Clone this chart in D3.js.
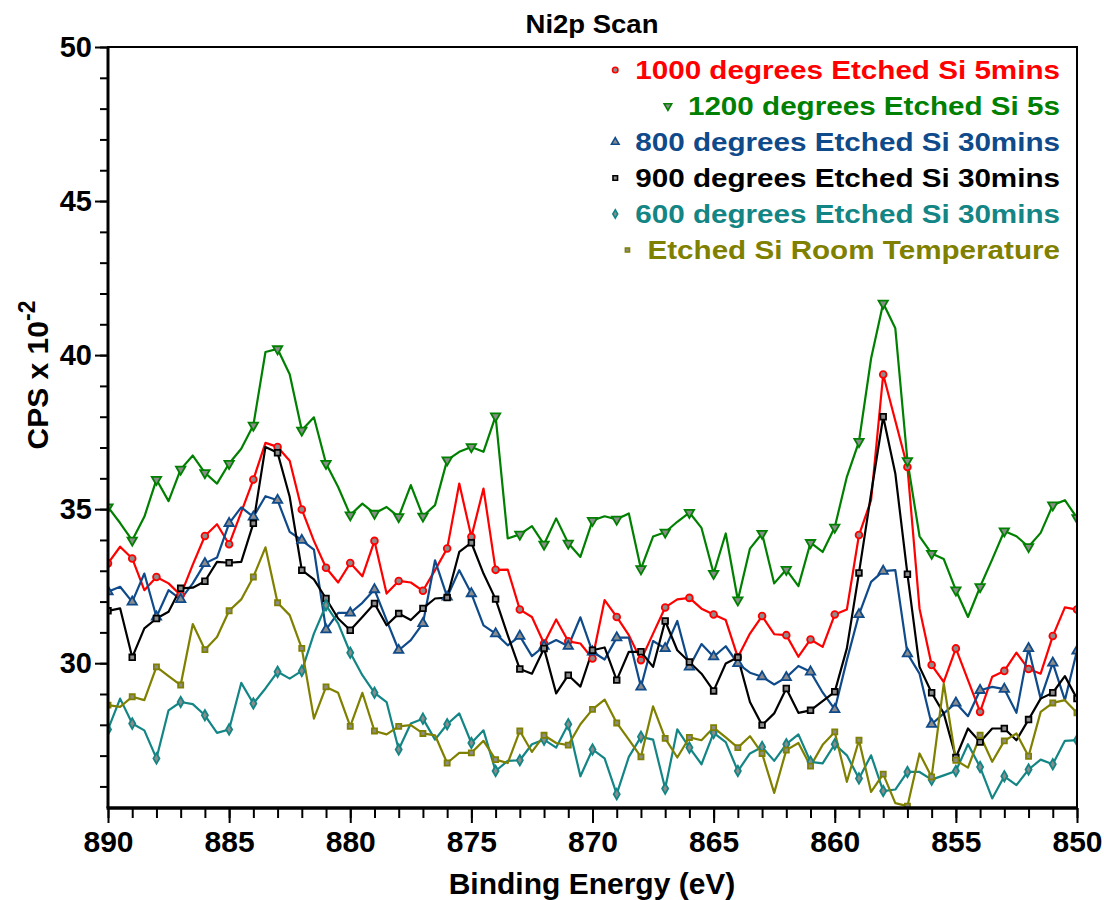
<!DOCTYPE html>
<html>
<head>
<meta charset="utf-8">
<script src="https://cdn.jsdelivr.net/npm/d3@7"></script>
<style>
  body { margin: 0; background: #fff; }
  text { font-family: "Liberation Sans", Arial, sans-serif; font-weight: bold; }
</style>
</head>
<body>
<svg id="chart" width="1104" height="900"></svg>
<script>
// Binding energy grid (eV), 0.5 eV steps from 890 down to 850
const energies = d3.range(0, 81).map(i => 890 - i * 0.5);

// Ni2p counts (CPS x 10^-2), one value per energy step
const ni1000 = [33.24,33.78,33.40,32.37,32.80,32.59,32.21,33.20,34.13,34.51,33.86,34.90,35.96,37.15,37.02,36.57,34.99,33.97,33.10,32.62,33.25,32.82,33.97,32.26,32.67,32.62,32.35,33.02,33.72,35.83,34.10,35.67,33.03,33.04,31.74,31.50,30.64,31.42,30.71,30.64,30.15,32.05,31.50,30.91,30.10,30.96,31.81,32.07,32.12,31.77,31.58,31.40,30.19,30.96,31.53,30.94,30.91,30.21,30.77,30.53,31.58,31.74,34.16,35.29,39.37,37.87,36.37,31.77,29.94,29.39,30.48,29.45,28.42,29.56,29.75,30.34,29.81,29.66,30.88,31.81,31.74];
const ni1200 = [35.07,34.55,33.99,34.75,35.96,35.26,36.29,36.74,36.18,35.83,36.48,36.96,37.72,40.10,40.20,39.38,37.56,37.98,36.48,35.72,34.81,35.18,34.86,35.07,34.75,35.78,34.77,35.13,36.59,36.86,37.02,36.86,38.02,34.05,34.18,34.45,33.86,34.70,33.89,33.45,34.63,34.77,34.67,34.86,33.06,34.11,34.25,34.59,34.89,34.39,32.91,34.21,32.05,33.72,34.21,32.59,33.04,32.50,33.91,33.61,34.41,36.05,37.19,39.89,41.68,40.87,36.57,34.12,33.56,33.38,32.37,31.50,32.48,33.37,34.29,34.12,33.78,34.23,35.13,35.29,34.72];
const ni800 = [32.32,32.48,31.99,32.91,31.50,32.37,32.07,32.59,33.24,33.43,34.54,35.06,34.75,35.42,35.29,34.26,33.99,33.69,31.09,31.63,31.63,31.96,32.39,31.40,30.42,30.75,31.29,33.34,32.15,33.02,32.26,31.23,30.96,30.58,30.88,30.23,30.55,30.75,30.55,31.49,30.37,30.12,30.83,30.83,29.23,30.72,30.48,31.37,29.88,30.62,30.21,30.55,29.99,29.69,29.56,29.31,29.54,29.91,29.72,29.05,28.50,30.10,31.58,32.64,32.99,33.02,30.31,29.66,28.02,28.37,28.71,28.28,29.12,29.23,29.16,28.39,30.48,28.85,30.01,28.80,30.40];
const ni900 = [31.70,31.78,30.19,31.13,31.45,31.67,32.43,32.45,32.66,33.29,33.26,33.29,34.54,37.02,36.83,35.40,33.02,32.72,32.10,31.45,31.07,31.50,31.94,31.23,31.61,31.40,31.78,32.10,32.13,33.61,33.91,32.91,32.08,30.91,29.81,29.66,30.48,29.02,29.61,29.24,30.42,30.51,29.45,30.37,30.37,29.88,31.37,30.42,30.04,29.66,29.10,29.99,30.19,28.74,27.99,28.37,29.18,28.39,28.47,28.77,29.07,30.48,32.93,35.50,38.00,36.16,32.89,29.88,29.04,28.37,26.94,27.88,27.44,27.88,27.88,27.50,28.17,28.85,29.04,29.58,28.85];
const ni600 = [27.85,28.85,28.04,27.82,26.91,28.47,28.74,28.67,28.31,27.74,27.85,29.36,28.69,29.18,29.72,29.50,29.75,30.96,31.88,31.29,30.34,29.61,29.04,28.74,27.20,28.04,28.20,27.52,28.02,28.37,27.41,27.82,26.50,26.83,26.85,27.37,27.52,27.26,28.02,26.33,27.20,26.91,25.75,26.96,27.61,27.52,25.93,27.85,27.26,26.72,27.74,27.44,26.50,27.07,27.28,26.83,27.37,27.69,26.80,26.75,27.37,27.01,26.26,27.01,25.85,25.90,26.47,26.47,26.22,26.36,26.50,27.37,26.63,25.61,26.33,26.04,26.55,26.87,26.72,27.48,27.50];
const niRoom = [28.64,28.58,28.91,28.80,29.88,29.58,29.29,31.27,30.44,30.85,31.70,32.07,32.80,33.76,31.96,31.56,30.48,28.20,29.23,29.04,27.95,29.04,27.80,27.69,27.95,27.99,27.72,27.66,26.76,27.09,27.09,27.48,26.87,26.76,27.80,27.12,27.66,27.41,27.34,28.02,28.50,28.82,28.06,27.52,26.96,28.60,27.56,26.94,27.59,27.50,27.91,27.59,27.26,27.63,27.07,25.79,27.18,27.41,26.66,27.35,27.77,26.15,27.50,25.82,26.40,25.46,25.36,27.07,26.31,29.34,26.85,26.61,27.66,26.80,27.48,27.72,26.98,28.42,28.71,28.80,28.39];

const seriesNames = ["1000 degrees Etched Si 5mins", "1200 degrees Etched Si 5s", "800 degrees Etched Si 30mins",
                     "900 degrees Etched Si 30mins", "600 degrees Etched Si 30mins", "Etched Si Room Temperature"];
const seriesValues = [ni1000, ni1200, ni800, ni900, ni600, niRoom];

const xTickLabels = [890, 885, 880, 875, 870, 865, 860, 855, 850];
const yTickLabels = [30, 35, 40, 45, 50];

const chartTitle = "Ni2p Scan";
const xTitle = "Binding Energy (eV)";

// Appearance
const colors = ["#ff0000", "#008000", "#0f4a8a", "#000000", "#138585", "#808000"];
const symbols = [d3.symbolCircle, d3.symbolTriangle, d3.symbolTriangle, d3.symbolSquare, d3.symbolDiamond, d3.symbolSquare];
const symbolRotate = [0, 180, 0, 0, 0, 0];
const symbolSize = [36, 38, 38, 32, 32, 26];

const svg = d3.select("#chart");
const plot = { left: 108, right: 1077, top: 47, bottom: 808 };

const x = d3.scaleLinear().domain([890, 850]).range([plot.left, plot.right]);
const y = d3.scaleLinear().domain([25.3, 50]).range([plot.bottom, plot.top]);

svg.append("defs").append("clipPath").attr("id", "plotClip")
  .append("rect")
  .attr("x", plot.left).attr("y", plot.top)
  .attr("width", plot.right - plot.left).attr("height", plot.bottom - plot.top);

// Series lines and markers (markers on whole-eV points)
const line = d3.line().x(d => x(d[0])).y(d => y(d[1]));
const dataLayer = svg.append("g").attr("clip-path", "url(#plotClip)");

seriesValues.forEach((vals, s) => {
  const pts = energies.map((e, i) => [e, vals[i]]);
  dataLayer.append("path")
    .datum(pts)
    .attr("d", line)
    .attr("fill", "none")
    .attr("stroke", colors[s])
    .attr("stroke-width", 2.2)
    .attr("stroke-linejoin", "round");
});
seriesValues.forEach((vals, s) => {
  const pts = energies.map((e, i) => [e, vals[i]]).filter(p => Number.isInteger(p[0]));
  dataLayer.selectAll(null)
    .data(pts)
    .enter().append("path")
    .attr("d", d3.symbol().type(symbols[s]).size(symbolSize[s]))
    .attr("transform", d => `translate(${x(d[0])},${y(d[1])}) rotate(${symbolRotate[s]})`)
    .attr("fill", "#8c8c8c")
    .attr("stroke", colors[s])
    .attr("stroke-width", 1.8);
});

// Axes
const xMinor = svg.append("g").attr("transform", `translate(0,${plot.bottom})`)
  .call(d3.axisBottom(x).tickValues(d3.range(850, 891, 1)).tickSize(10).tickFormat(""));
const xMajor = svg.append("g").attr("transform", `translate(0,${plot.bottom})`)
  .call(d3.axisBottom(x).tickValues(xTickLabels).tickSize(15).tickFormat(d3.format("d")));
const yMinor = svg.append("g").attr("transform", `translate(${plot.left},0)`)
  .call(d3.axisLeft(y).tickValues(d3.range(26, 51, 1)).tickSize(8).tickFormat(""));
const yMajor = svg.append("g").attr("transform", `translate(${plot.left},0)`)
  .call(d3.axisLeft(y).tickValues(yTickLabels).tickSize(13).tickPadding(3).tickFormat(d3.format("d")));

[xMinor, xMajor, yMinor, yMajor].forEach(g => {
  g.select(".domain").remove();
  g.selectAll(".tick line").attr("stroke", "#000").attr("stroke-width", 2);
  g.selectAll(".tick text").attr("fill", "#000").style("font-weight", "bold");
});
xMajor.selectAll(".tick text")
  .attr("y", 44).attr("dy", null)
  .style("font-size", "30px");
yMajor.selectAll(".tick text")
  .style("font-size", "29px");

// Plot frame
svg.append("rect")
  .attr("x", plot.left).attr("y", plot.top)
  .attr("width", plot.right - plot.left).attr("height", plot.bottom - plot.top)
  .attr("fill", "none").attr("stroke", "#000").attr("stroke-width", 2);
svg.append("line")
  .attr("x1", plot.left).attr("x2", plot.left)
  .attr("y1", plot.top).attr("y2", plot.bottom)
  .attr("stroke", "#000").attr("stroke-width", 3);
svg.append("line")
  .attr("x1", plot.left - 1.5).attr("x2", plot.right + 1)
  .attr("y1", plot.bottom).attr("y2", plot.bottom)
  .attr("stroke", "#000").attr("stroke-width", 3.5);

// Titles
svg.append("text")
  .attr("transform", "translate(592,33) scale(1.1,1)")
  .attr("text-anchor", "middle")
  .style("font-size", "25px")
  .text(chartTitle);

svg.append("text")
  .attr("x", 592).attr("y", 894)
  .attr("text-anchor", "middle")
  .style("font-size", "30px")
  .text(xTitle);

const yTitle = svg.append("text")
  .attr("transform", "translate(48,375) rotate(-90)")
  .attr("text-anchor", "middle")
  .style("font-size", "30px");
yTitle.append("tspan").text("CPS x 10");
yTitle.append("tspan").attr("dy", -13).style("font-size", "23px").text("-2");

// Legend (right-aligned text, marker to the left of each entry)
const legendRight = 1060;
const legendStretch = 1.14;
const legend = svg.append("g");
seriesNames.forEach((name, s) => {
  const ly = 70 + s * 36;
  const t = legend.append("text")
    .attr("transform", `translate(${legendRight},${ly + 9}) scale(${legendStretch},1)`)
    .attr("text-anchor", "end")
    .attr("fill", colors[s])
    .style("font-size", "26px")
    .text(name);
  const w = t.node().getComputedTextLength() * legendStretch;
  legend.append("path")
    .attr("d", d3.symbol().type(symbols[s]).size(symbolSize[s] * 0.65))
    .attr("transform", `translate(${legendRight - w - 20},${ly}) rotate(${symbolRotate[s]})`)
    .attr("fill", "#8c8c8c")
    .attr("stroke", colors[s])
    .attr("stroke-width", 1.6);
});
</script>
</body>
</html>
